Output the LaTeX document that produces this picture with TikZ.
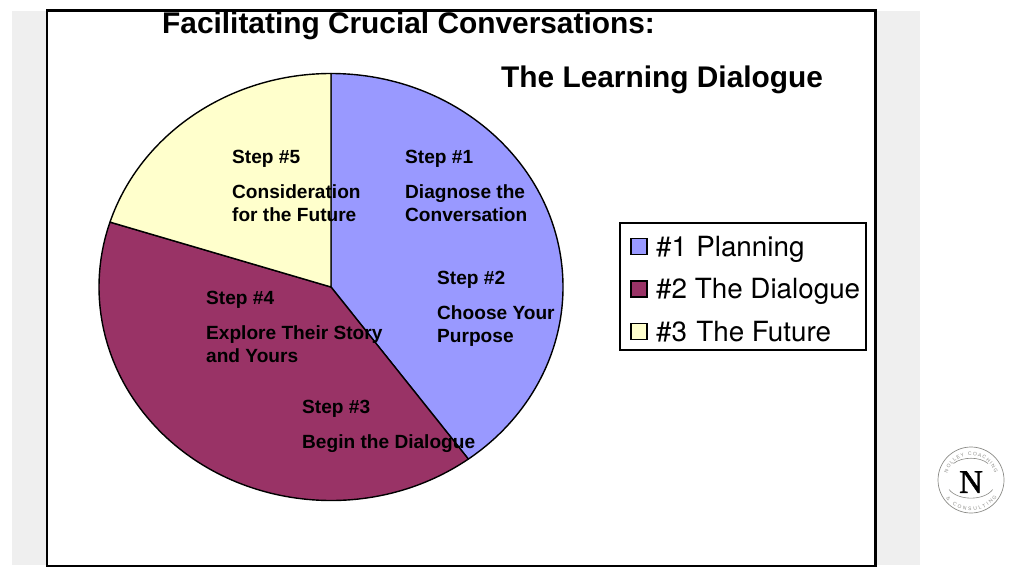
\documentclass[tikz,border=0pt]{standalone}
\usepackage{fontspec}
\setmainfont{Liberation Sans}
\newfontfamily\legendfont{TeX Gyre Heros}
\newfontfamily\logofont[FakeBold=1.2]{Liberation Serif}
\usetikzlibrary{decorations.text}
\definecolor{bandgray}{HTML}{EFEFEF}
\definecolor{pieblue}{HTML}{9999FF}
\definecolor{piemaroon}{HTML}{993366}
\definecolor{pieyellow}{HTML}{FFFFCC}
\definecolor{logogray}{HTML}{8A8A86}
\tikzset{
  x=1pt,y=-1pt,
  slice/.style={draw=black,line width=1.4pt,line join=round},
  titletext/.style={anchor=base west,inner sep=0pt,font=\fontsize{29.85}{32}\selectfont\bfseries},
  steptext/.style={anchor=north west,inner sep=0pt,align=left,font=\fontsize{19.1}{23.3}\selectfont\bfseries},
  legendtext/.style={anchor=base west,inner sep=0pt,font=\fontsize{27.8}{30}\selectfont\legendfont},
  swatch/.style={draw=black,line width=1.3pt,minimum size=16pt,inner sep=0pt},
}
\begin{document}
\begin{tikzpicture}
\useasboundingbox (0,0) rectangle (1024,576);
\fill[bandgray] (12,11) rectangle (920,565);
\draw[black,line width=2.2pt,fill=white] (47,10.5) rectangle (875.5,566);
% pie
\coordinate (c) at (331,287);
\draw[slice,fill=pieblue] (c) -- ++(-90:232 and 213.5) arc[start angle=-90,end angle=53.7,x radius=232,y radius=213.5] -- cycle;
\draw[slice,fill=piemaroon] (c) -- ++(53.7:232 and 213.5) arc[start angle=53.7,end angle=197.7,x radius=232,y radius=213.5] -- cycle;
\draw[slice,fill=pieyellow] (c) -- ++(197.7:232 and 213.5) arc[start angle=197.7,end angle=270,x radius=232,y radius=213.5] -- cycle;
% titles
\node[titletext] (title1) at (162,33) {Facilitating Crucial Conversations:};
\node[titletext] (title2) at (501,87) {The Learning Dialogue};
% steps
\node[steptext] (s5a) at (232,150) {Step \#5};
\node[steptext] (s5b) at (232,184) {Consideration\\for the Future};
\node[steptext] (s1a) at (405,150) {Step \#1};
\node[steptext] (s1b) at (405,184) {Diagnose the\\Conversation};
\node[steptext] (s2a) at (437,271) {Step \#2};
\node[steptext] (s2b) at (437,305) {Choose Your\\Purpose};
\node[steptext] (s4a) at (206,291) {Step \#4};
\node[steptext] (s4b) at (206,325) {Explore Their Story\\and Yours};
\node[steptext] (s3a) at (302,400) {Step \#3};
\node[steptext] (s3b) at (302,434) {Begin the Dialogue};
% legend
\draw[black,line width=1.6pt,fill=white] (620,223) rectangle (866,350);
\node[swatch,fill=pieblue] (k1) at (639,246.5) {};
\node[swatch,fill=piemaroon] (k2) at (639,289) {};
\node[swatch,fill=pieyellow] (k3) at (639,331.5) {};
\node[legendtext] (l1) at (656,256) {\#1\kern1.5pt{} Planning};
\node[legendtext] (l2) at (656,298.5) {\#2 The Dialogue};
\node[legendtext] (l3) at (656,341) {\#3\kern1.5pt{} The Future};
% logo
\coordinate (lc) at (971,480);
\draw[logogray,line width=.7pt] (lc) circle[radius=33];
\draw[logogray,line width=.6pt] (953.5,463.5) .. controls (962,456.5) and (980,456.5) .. (988,463.5);
\draw[logogray,line width=.6pt] (949,489.5) .. controls (958,501) and (984,501) .. (992.7,489.5);
\node[inner sep=0pt,font=\fontsize{33}{33}\selectfont\logofont] (logoN) at (971,482) {N};
\path[postaction={decorate},decoration={text along path,text align={fit to path},
  text={|\fontsize{5}{5}\selectfont\color{logogray}|NOLLEY COACHING}}]
  (lc) ++(-164:24.5) arc[start angle=-164,end angle=-16,radius=24.5];
\path[postaction={decorate},decoration={text along path,text align={fit to path},
  text={|\fontsize{5}{5}\selectfont\color{logogray}|{\&} CONSULTING}}]
  (lc) ++(143:31) arc[start angle=143,end angle=33,radius=31];
\end{tikzpicture}
\end{document}
